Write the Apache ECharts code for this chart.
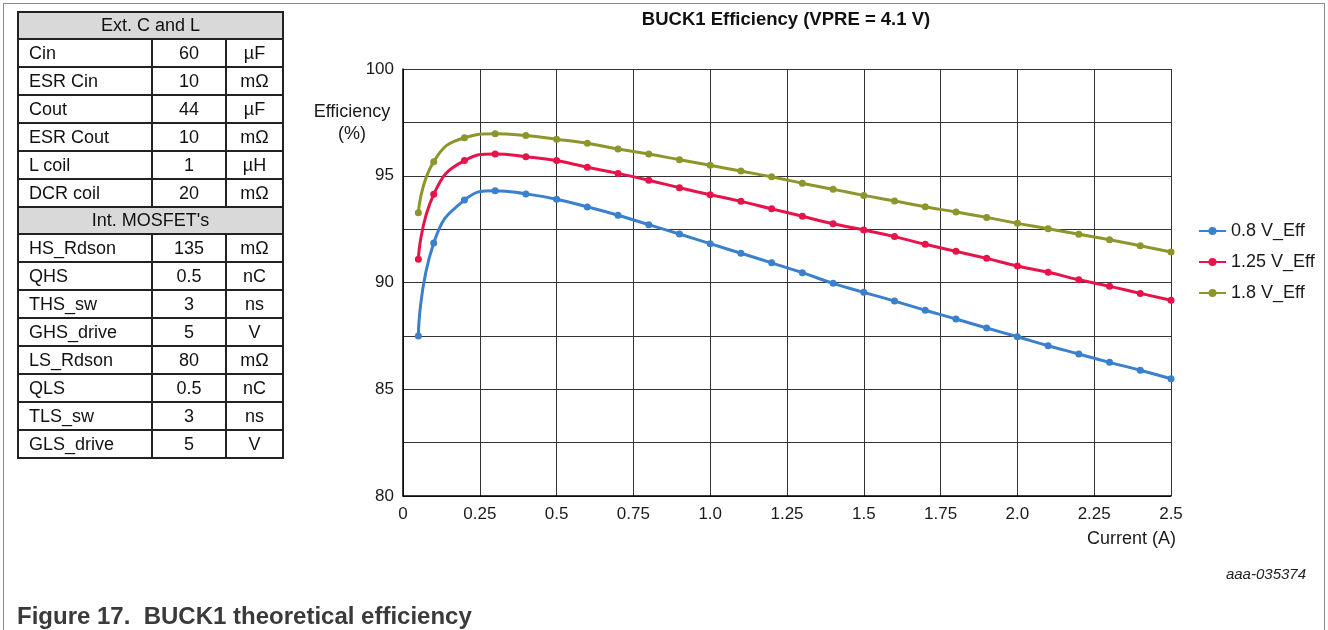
<!DOCTYPE html>
<html>
<head>
<meta charset="utf-8">
<script src="https://cdn.jsdelivr.net/npm/echarts@6/dist/echarts.min.js"></script>
<style>
  html, body { margin: 0; padding: 0; background: #fff; }
  #wrap { position: relative; width: 1328px; height: 630px; overflow: hidden; font-family: "Liberation Sans", Arial, sans-serif; }
  #frame { position: absolute; left: 3px; top: 3px; width: 1322px; height: 700px; border: 1px solid #8a8a8a; box-sizing: border-box; }
  #chart { position: absolute; left: 0; top: 0; width: 1328px; height: 630px; }
  #tbl { position: absolute; left: 17px; top: 11px; border-collapse: collapse; font-size: 18px; color: #111; z-index: 2; }
  #tbl td { border: 2px solid #222; height: 26px; padding: 0; line-height: 26px; }
  #tbl td.h { background: #d9d9d9; text-align: center; height: 25px; line-height: 25px; }
  #tbl td.n { padding-left: 10px; width: 122px; }
  #tbl td.v { text-align: center; width: 72px; }
  #tbl td.u { text-align: center; width: 55px; }
</style>
</head>
<body>
<div id="wrap">
  <div id="frame"></div>
  <table id="tbl"></table>
  <div id="chart"></div>
</div>
<script>
// ---- data ----
var extHeader = "Ext. C and L";
var extRows = [
  ["Cin", "60", "µF"],
  ["ESR Cin", "10", "mΩ"],
  ["Cout", "44", "µF"],
  ["ESR Cout", "10", "mΩ"],
  ["L coil", "1", "µH"],
  ["DCR coil", "20", "mΩ"]
];
var mosHeader = "Int. MOSFET's";
var mosRows = [
  ["HS_Rdson", "135", "mΩ"],
  ["QHS", "0.5", "nC"],
  ["THS_sw", "3", "ns"],
  ["GHS_drive", "5", "V"],
  ["LS_Rdson", "80", "mΩ"],
  ["QLS", "0.5", "nC"],
  ["TLS_sw", "3", "ns"],
  ["GLS_drive", "5", "V"]
];

var currents = [0.05, 0.1, 0.2, 0.3, 0.4, 0.5, 0.6, 0.7, 0.8, 0.9, 1.0, 1.1, 1.2, 1.3, 1.4, 1.5, 1.6, 1.7, 1.8, 1.9, 2.0, 2.1, 2.2, 2.3, 2.4, 2.5];
var eff08 = [87.5, 91.85, 93.86, 94.3, 94.15, 93.9, 93.54, 93.15, 92.71, 92.27, 91.82, 91.37, 90.92, 90.46, 89.96, 89.54, 89.13, 88.7, 88.29, 87.87, 87.46, 87.04, 86.65, 86.26, 85.89, 85.49];
var eff125 = [91.09, 94.13, 95.71, 96.02, 95.89, 95.71, 95.4, 95.11, 94.79, 94.44, 94.11, 93.8, 93.45, 93.1, 92.75, 92.46, 92.15, 91.79, 91.46, 91.13, 90.77, 90.48, 90.13, 89.82, 89.49, 89.17];
var eff18 = [93.27, 95.66, 96.78, 96.97, 96.88, 96.71, 96.52, 96.25, 96.02, 95.75, 95.49, 95.22, 94.95, 94.65, 94.37, 94.08, 93.82, 93.55, 93.3, 93.05, 92.77, 92.52, 92.26, 92.0, 91.72, 91.43];
var seriesNames = ["0.8 V_Eff", "1.25 V_Eff", "1.8 V_Eff"];
var xTickLabels = ["0", "0.25", "0.5", "0.75", "1.0", "1.25", "1.5", "1.75", "2.0", "2.25", "2.5"];
var yTickLabels = ["80", "85", "90", "95", "100"];

var titleText = "BUCK1 Efficiency (VPRE = 4.1 V)";
var yName = "Efficiency\n(%)";
var xName = "Current (A)";
var docId = "aaa-035374";
var caption = "Figure 17.  BUCK1 theoretical efficiency";

// ---- table ----
(function () {
  var t = document.getElementById('tbl');
  var html = '';
  function hdr(txt) { html += '<tr><td class="h" colspan="3">' + txt + '</td></tr>'; }
  function rows(arr) {
    arr.forEach(function (r) {
      html += '<tr><td class="n">' + r[0] + '</td><td class="v">' + r[1] + '</td><td class="u">' + r[2] + '</td></tr>';
    });
  }
  hdr(extHeader); rows(extRows); hdr(mosHeader); rows(mosRows);
  t.innerHTML = html;
})();

// ---- chart ----
var colors = ['#3a80cd', '#e6144b', '#8c962a'];
function pairs(ys) { return currents.map(function (x, i) { return [x, ys[i]]; }); }
var allSeries = [eff08, eff125, eff18].map(function (ys, i) {
  return {
    name: seriesNames[i],
    type: 'line',
    data: pairs(ys),
    smooth: 0.5,
    symbol: 'circle',
    symbolSize: 7,
    showSymbol: true,
    lineStyle: { width: 3, color: colors[i] },
    itemStyle: { color: colors[i] },
    emphasis: { disabled: true }
  };
});

var chart = echarts.init(document.getElementById('chart'), null, { renderer: 'canvas' });
var font = '"Liberation Sans", Arial, sans-serif';
chart.setOption({
  animation: false,
  color: colors,
  textStyle: { fontFamily: font },
  grid: { left: 403, right: 157, top: 69, bottom: 134, containLabel: false },
  xAxis: {
    type: 'value', min: 0, max: 2.5, interval: 0.25,
    axisLine: { show: true, lineStyle: { color: '#000', width: 1.5 } },
    axisTick: { show: false },
    splitLine: { show: true, lineStyle: { color: '#333', width: 1 } },
    axisLabel: {
      fontSize: 17, color: '#1a1a1a', margin: 10, fontFamily: font,
      formatter: function (v) { var k = Math.round(v / 0.25); return xTickLabels[k] !== undefined ? xTickLabels[k] : ''; }
    }
  },
  yAxis: {
    type: 'value', min: 80, max: 100, interval: 2.5,
    axisLine: { show: true, lineStyle: { color: '#000', width: 1.5 } },
    axisTick: { show: false },
    splitLine: { show: true, lineStyle: { color: '#333', width: 1 } },
    axisLabel: {
      fontSize: 17, color: '#1a1a1a', margin: 9, fontFamily: font,
      formatter: function (v) { var k = Math.round(v - 80) / 5; return (Number.isInteger(k) && yTickLabels[k]) ? yTickLabels[k] : ''; }
    }
  },
  legend: {
    orient: 'vertical', left: 1193, top: 217,
    itemWidth: 27, itemHeight: 10, itemGap: 13,
    textStyle: { fontSize: 18, color: '#1a1a1a', fontFamily: font },
    data: seriesNames
  },
  graphic: [
    { type: 'text', x: 786, y: 10, style: { text: titleText, font: 'bold 18.5px ' + font, fill: '#111', textAlign: 'center' } },
    { type: 'text', x: 352, y: 101, style: { text: yName, font: '18px ' + font, fill: '#1a1a1a', textAlign: 'center', lineHeight: 22 } },
    { type: 'text', x: 1176, y: 530, style: { text: xName, font: '18px ' + font, fill: '#1a1a1a', textAlign: 'right' } },
    { type: 'text', x: 1306, y: 567, style: { text: docId, font: 'italic 15px ' + font, fill: '#222', textAlign: 'right' } },
    { type: 'text', x: 17, y: 605, style: { text: caption, font: 'bold 24px ' + font, fill: '#3a3a3a', textAlign: 'left' } }
  ],
  series: allSeries
});
</script>
</body>
</html>
